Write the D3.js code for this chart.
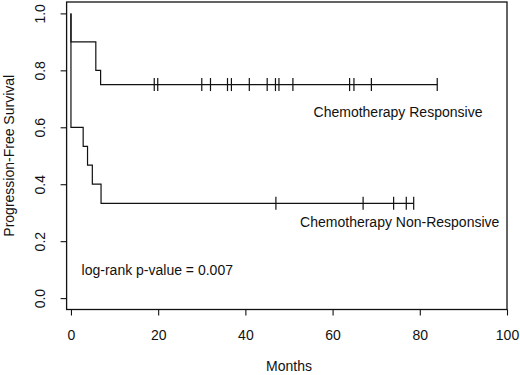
<!DOCTYPE html>
<html>
<head>
<meta charset="utf-8">
<script src="https://cdn.jsdelivr.net/npm/d3@7"></script>
<style>
  html, body { margin: 0; padding: 0; background: #fff; }
  svg { display: block; }
  text { font-family: "Liberation Sans", Arial, Helvetica, sans-serif; fill: #111; }
</style>
</head>
<body>
<svg id="chart" width="520" height="375"></svg>
<script>
// ---- data ----
const xTicks = [0, 20, 40, 60, 80, 100];
const yTicks = [0.0, 0.2, 0.4, 0.6, 0.8, 1.0];
const yTickLabels = ["0.0", "0.2", "0.4", "0.6", "0.8", "1.0"];

// Chemotherapy Responsive: step times and survival after each step
const respStepTimes = [0, 5.7, 6.8];
const respStepSurv  = [0.9, 0.8, 0.75];
const respEnd = 84;
const respCensor = [19.1, 19.9, 30.0, 32.0, 35.9, 36.8, 40.9, 45.0, 46.9, 47.7, 50.9, 63.9, 64.9, 68.9, 84.0];

// Chemotherapy Non-Responsive
const nonStepTimes = [0, 2.8, 3.8, 4.9, 6.9];
const nonStepSurv  = [0.6, 0.533, 0.467, 0.4, 0.333];
const nonEnd = 78.6;
const nonCensor = [47.0, 67.0, 74.0, 76.9, 78.6];

const labels = [
  { text: "Chemotherapy Responsive", x: 75, y: 0.652 },
  { text: "Chemotherapy Non-Responsive", x: 75.4, y: 0.266 },
  { text: "log-rank p-value = 0.007", x: 19.8, y: 0.1 }
];

// ---- drawing ----
const svg = d3.select("#chart");
const x = d3.scaleLinear().domain([-1, 100]).range([66.6, 507]);
const y = d3.scaleLinear().domain([-0.04, 1.04]).range([309.5, 2]);
const ink = "#111";
const fs = 14;

// plot box
svg.append("rect")
  .attr("x", x(-1)).attr("y", y(1.04))
  .attr("width", x(100) - x(-1)).attr("height", y(-0.04) - y(1.04))
  .attr("fill", "none").attr("stroke", ink).attr("stroke-width", 1.3);

// x axis (ticks attached to the box)
const xAxis = d3.axisBottom(x).tickValues(xTicks).tickSize(6).tickPadding(14).tickFormat(d3.format("d"));
const gx = svg.append("g").attr("transform", `translate(0,${y(-0.04)})`).call(xAxis);
gx.select(".domain").remove();
gx.selectAll("line").attr("stroke", ink).attr("stroke-width", 1.1);
gx.selectAll("text").attr("font-size", fs).attr("fill", ink)
  .attr("font-family", "Liberation Sans, Arial, Helvetica, sans-serif")
  .attr("dy", null).attr("y", 340 - y(-0.04)).attr("dominant-baseline", "alphabetic");

// y axis (rotated labels, parallel to axis)
const yAxis = d3.axisLeft(y).tickValues(yTicks).tickSize(6).tickFormat((d, i) => yTickLabels[i]);
const gy = svg.append("g").attr("transform", `translate(${x(-1)},0)`).call(yAxis);
gy.select(".domain").remove();
gy.selectAll("line").attr("stroke", ink).attr("stroke-width", 1.1);
gy.selectAll("text").attr("font-size", fs).attr("fill", ink)
  .attr("font-family", "Liberation Sans, Arial, Helvetica, sans-serif")
  .attr("x", null).attr("dy", null)
  .attr("text-anchor", "middle")
  .attr("transform", `translate(${45 - x(-1)},0) rotate(-90)`)
  .attr("y", 0);

// axis titles
svg.append("text").attr("x", x(50)).attr("y", 371).attr("text-anchor", "middle")
  .attr("font-size", fs).text("Months");
svg.append("text").attr("transform", `translate(14,${(y(1.04) + y(-0.04)) / 2}) rotate(-90)`)
  .attr("text-anchor", "middle").attr("font-size", fs).text("Progression-Free Survival");

// KM step curves
function stepPoints(times, surv, end) {
  const pts = [[0, 1]];
  let cur = 1;
  times.forEach((t, i) => { pts.push([t, cur]); cur = surv[i]; pts.push([t, cur]); });
  pts.push([end, cur]);
  return pts;
}
const line = d3.line().x(d => x(d[0])).y(d => y(d[1]));

function drawCurve(times, surv, end, censor) {
  svg.append("path").datum(stepPoints(times, surv, end)).attr("d", line)
    .attr("fill", "none").attr("stroke", ink).attr("stroke-width", 1.2);
  const last = surv[surv.length - 1];
  svg.append("g").selectAll("line").data(censor).join("line")
    .attr("x1", d => x(d)).attr("x2", d => x(d))
    .attr("y1", y(last) - 6.5).attr("y2", y(last) + 6.5)
    .attr("stroke", ink).attr("stroke-width", 1.2);
}
drawCurve(respStepTimes, respStepSurv, respEnd, respCensor);
drawCurve(nonStepTimes, nonStepSurv, nonEnd, nonCensor);

// annotations
svg.append("g").selectAll("text").data(labels).join("text")
  .attr("x", d => x(d.x)).attr("y", d => y(d.y) + 5)
  .attr("text-anchor", "middle").attr("font-size", fs).text(d => d.text);
</script>
</body>
</html>
